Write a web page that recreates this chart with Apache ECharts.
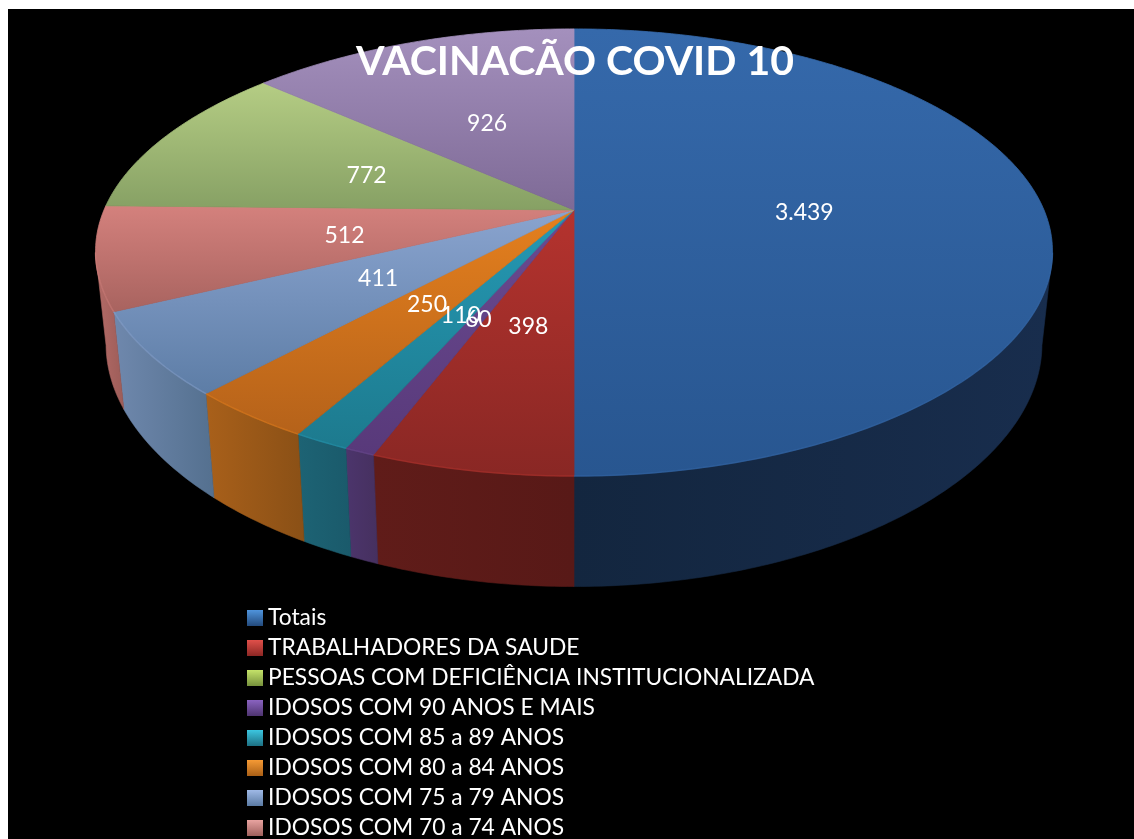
<!DOCTYPE html>
<html>
<head>
<meta charset="utf-8">
<style>html,body{margin:0;padding:0;background:#fff}#c{width:1134px;height:839px}</style>
<script src="https://cdn.jsdelivr.net/npm/echarts@6/dist/echarts.min.js"></script>
</head>
<body>
<div id="c"></div>
<script>
const chartTitle = 'VACINACÃO COVID 10';
const categories = ['Totais','TRABALHADORES DA SAUDE','PESSOAS COM DEFICIÊNCIA INSTITUCIONALIZADA','IDOSOS COM 90 ANOS E MAIS','IDOSOS COM 85 a 89 ANOS','IDOSOS COM 80 a 84 ANOS','IDOSOS COM 75 a 79 ANOS','IDOSOS COM 70 a 74 ANOS','IDOSOS COM 65 a 69 ANOS','IDOSOS COM 60 a 64 ANOS'];
const values = [3439,398,0,60,110,250,411,512,772,926];
const visibleLegendCount = 8;
const topFrom = ['#3569ab','#b5332e','#9bbb59','#6b4b91','#2599b4','#e5801e','#8aa4cf','#d4817d','#b5cd84','#a490bd'];
const topTo = ['#285690','#892724','#7f9a4a','#58397a','#1d7a8e','#b5621a','#5d7da6','#a8635f','#86a064','#7e6a96'];
const sideFrom = ['#13263f','#601c19','#5a6d33','#4c356c','#1d6374','#a9601a','#6f88ad','#b56c68','#5a6d33','#4c3a63'];
const sideTo = ['#182d4d','#581917','#5a6d33','#46305f','#1a5a6b','#8a5016','#54708f','#9c5c58','#5a6d33','#4c3a63'];
const legendFrom = ['#4f94dc','#e0504a','#c4e26a','#8a63c0','#3cc6e0','#f59a35','#9fb9e6','#e8a3a0','#c4e26a','#8a63c0'];
const legendTo = ['#234a7c','#8c2724','#76913c','#4e3470','#1d7083','#a95f16','#5a7aa3','#a0605c','#76913c','#4e3470'];

const CX=574, AY=210, RX=470, RY=215.5, K=-0.19, DROP=89.5, BASE=0.978, NARROW=0.015;
const total = values.reduce((a,b)=>a+b,0);
const starts = []; values.reduce((a,b,i)=>{starts[i]=a;return a+b;},0);
const toAngle = v => v/total*2*Math.PI;
function project(t,r,bottom){
  const s=Math.sin(t)*r, v=-Math.cos(t)*r, d=1+K*v;
  return [CX+(bottom?RX*BASE:RX)*(1-NARROW*v*v)*s/d, AY+(RY*v+(bottom?DROP:0))/d];
}
function arc(a,b,r,bottom){
  const n=Math.max(2,Math.ceil((b-a)/0.012)), out=[];
  for(let i=0;i<=n;i++) out.push(project(a+(b-a)*i/n,r,bottom));
  return out;
}
function vgrad(a,b){return {type:'linear',x:0,y:0,x2:0,y2:1,colorStops:[{offset:0,color:a},{offset:1,color:b}]};}
function hgrad(a,b){return {type:'linear',x:0,y:0,x2:1,y2:0,colorStops:[{offset:0,color:a},{offset:1,color:b}]};}
const SIDE_A=Math.PI-Math.acos(0.19), SIDE_B=Math.PI+Math.acos(0.19);
function renderSlice(i){
  return function(params,api){
    const val=api.value(0);
    if(!val) return {type:'group',children:[]};
    const a=toAngle(starts[i]), b=a+toAngle(val), kids=[];
    const sa=Math.max(a,SIDE_A), sb=Math.min(b,SIDE_B);
    if(sb>sa){
      const g=hgrad(sideFrom[i],sideTo[i]);
      kids.push({type:'polygon',z2:1,shape:{points:arc(sa,sb,1,false).concat(arc(sa,sb,1,true).reverse())},
        style:{fill:g,stroke:g,lineWidth:0.6}});
    }
    const g2=vgrad(topFrom[i],topTo[i]);
    kids.push({type:'polygon',z2:10,shape:{points:[[CX,AY]].concat(arc(a,b,1,false))},style:{fill:g2,stroke:g2,lineWidth:0.8}});
    if(sb>sa){
      kids.push({type:'polyline',z2:11,shape:{points:arc(sa,sb,1,false)},style:{stroke:topFrom[i],lineWidth:1.5,fill:null,opacity:0.5}});
    }
    const lp=project((a+b)/2,0.49,false);
    kids.push({type:'text',z2:100,style:{text:val.toLocaleString('de-DE'),x:lp[0],y:lp[1]+2.5,fill:'#fff',font:'23px Lato',align:'center',verticalAlign:'middle'}});
    return {type:'group',children:kids};
  };
}
const chart=echarts.init(document.getElementById('c'),null,{renderer:'canvas'});
chart.setOption({
  animation:false,
  backgroundColor:'#fff',
  graphic:[{type:'rect',z:-10,silent:true,shape:{x:8,y:9,width:1126,height:830},style:{fill:'#000'}}],
  title:{text:chartTitle,left:570,top:36,textAlign:'center',textStyle:{color:'#fff',fontFamily:'Lato',fontWeight:'bold',fontSize:41},z:20},
  legend:{orient:'vertical',left:247,top:606,height:300,padding:0,itemWidth:16,itemHeight:16,itemGap:6,selectedMode:false,
    textStyle:{color:'#fff',fontFamily:'Lato',fontSize:22.8,lineHeight:24,padding:[0,0,0,0]},
    data:categories.slice(0,visibleLegendCount).map((n,i)=>({name:n,icon:'rect',itemStyle:{color:vgrad(legendFrom[i],legendTo[i]),borderWidth:0}}))},
  series:categories.map((n,i)=>({
    type:'custom',name:n,coordinateSystem:'none',silent:true,z:2,
    itemStyle:{color:topFrom[i]},
    renderItem:renderSlice(i),
    data:[[values[i]]]
  }))
});
</script>
</body>
</html>
